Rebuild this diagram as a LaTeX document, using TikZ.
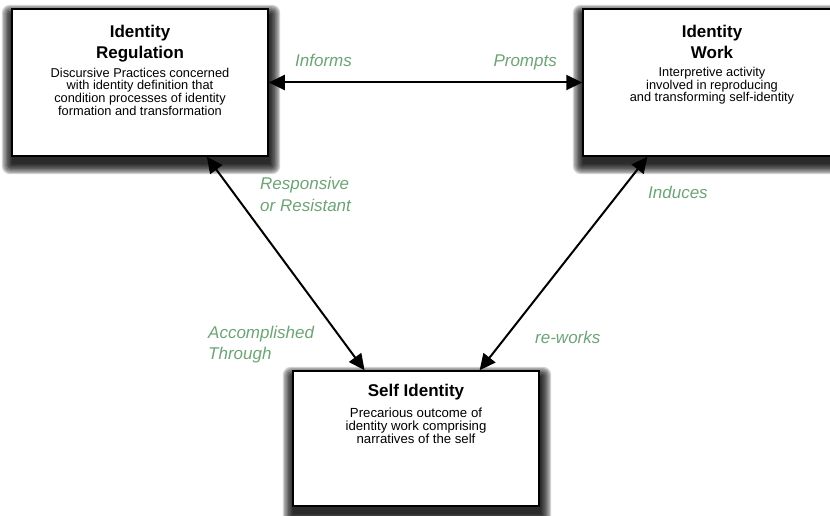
\documentclass[tikz,border=0pt]{standalone}
\usepackage{fontspec}
\setmainfont{Liberation Sans}
\usetikzlibrary{arrows.meta, positioning}
\definecolor{labelgreen}{RGB}{108,164,118}
\pgfdeclarelayer{background}
\pgfsetlayers{background,main}

\begin{document}
\begin{tikzpicture}[x=1pt, y=1pt,
    box/.style={draw, line width=1.5pt, fill=white, minimum width=256pt, minimum height=147pt, inner sep=0pt},
    title/.style={font=\fontsize{17}{21.7}\selectfont\bfseries, align=center, inner sep=0pt},
    body/.style={font=\fontsize{12.8}{12.6}\selectfont, align=center, inner sep=0pt},
    lbl/.style={font=\fontsize{17}{21.5}\selectfont\itshape, text=labelgreen, align=left, inner sep=0pt},
    link/.style={line width=2pt, {Triangle[length=16pt, width=15pt]}-{Triangle[length=16pt, width=15pt]}}]
  \useasboundingbox (0, 0) rectangle (830, -516);
  \node[box] (reg) at (140, -82.5) {};
  \node[box, minimum width=258pt] (work) at (712, -82.5) {};
  \node[box, minimum width=246pt, minimum height=135pt] (self) at (416, -438.5) {};

  \begin{pgfonlayer}{background}
    \foreach \b in {reg, work, self}
      \foreach \k in {0, ..., 8}
        \fill[black, opacity=0.18, rounded corners=\k pt]
          ([shift={(-1.3*\k + 1, -1.3*\k - 7)}]\b.south west) rectangle ([shift={(1.3*\k + 1, 1.3*\k - 7)}]\b.north east);
  \end{pgfonlayer}

  \node[title, below=16.5pt of reg.north] (reg title) {Identity\\Regulation};
  \node[body, below=59.5pt of reg.north] (reg body) {Discursive Practices concerned\\with identity definition that\\condition processes of identity\\formation and transformation};
  \node[title, below=16.5pt of work.north] (work title) {Identity\\Work};
  \node[body, below=59pt of work.north] (work body) {Interpretive activity\\involved in reproducing\\and transforming self-identity};
  \node[title, below=14pt of self.north] (self title) {Self Identity};
  \node[body, font=\fontsize{13.2}{13.4}\selectfont, below=37pt of self.north] (self body) {Precarious outcome of\\identity work comprising\\narratives of the self};

  \draw[link] (reg.east) -- (work.west);
  \draw[link] (reg.-48.5) -- (self.127.1);
  \draw[link] (work.-131) -- (self.47.4);

  \node[lbl, anchor=base west] (informs) at (295, -67) {Informs};
  \node[lbl, anchor=base east] (prompts) at (557, -67) {Prompts};
  \node[lbl, anchor=north west] (resp) at (260, -177) {Responsive\\or Resistant};
  \node[lbl, anchor=base west] (induces) at (648, -198) {Induces};
  \node[lbl, anchor=north west] (accomp) at (208, -325.6) {Accomplished\\Through};
  \node[lbl, anchor=base west] (reworks) at (535, -343) {re-works};
\end{tikzpicture}
\end{document}
